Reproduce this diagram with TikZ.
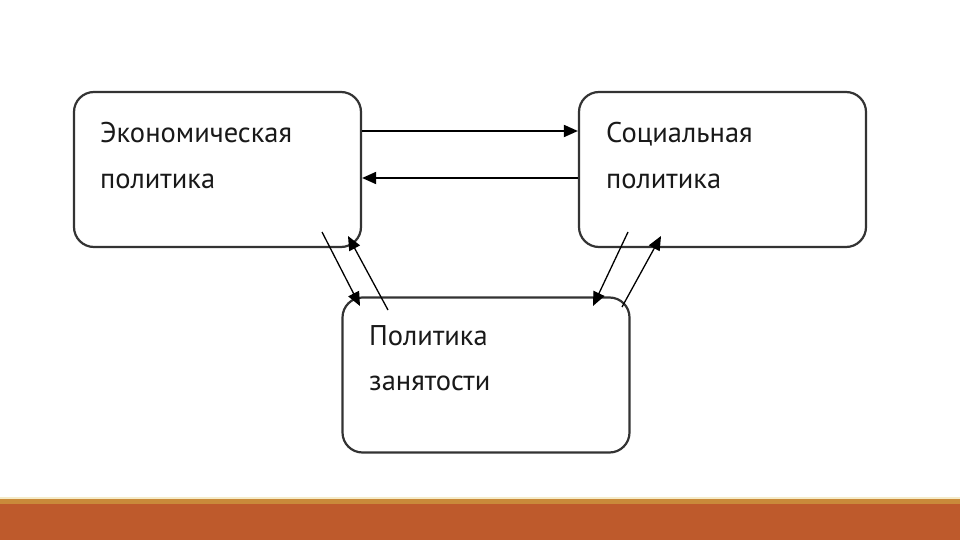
\documentclass[tikz,border=0pt]{standalone}
\usepackage{fontspec}
\setmainfont{PT Sans}
\usetikzlibrary{arrows.meta}
\definecolor{rust}{HTML}{BE5A2C}
\definecolor{ochre}{HTML}{C98A3A}
\definecolor{paleband}{HTML}{F5EBC8}
\definecolor{boxline}{HTML}{333333}
\tikzset{
  pbox/.style={draw=boxline, line width=2.2pt, rounded corners=20pt, minimum width=287pt, minimum height=155pt, inner sep=0pt},
  ptext/.style={anchor=base west, inner sep=0pt, text=black!90, font=\fontsize{28.5}{28.5}\selectfont},
  conn/.style={line width=1.8pt, -{Triangle[length=14pt,width=12pt]}},
  thin/.style={line width=1.3pt, -{Triangle[length=14pt,width=12pt]}}
}
\begin{document}
\begin{tikzpicture}[x=1pt,y=-1pt]
\useasboundingbox (0,0) rectangle (960,540);
\fill[white] (0,0) rectangle (960,540);
% bottom band
\fill[paleband] (0,497) rectangle (960,499);
\fill[ochre] (0,499) rectangle (960,504);
\fill[rust] (0,504) rectangle (960,540);
% boxes
\node[pbox] (eco) at (217.5,169.5) {};
\node[pbox] (soc) at (722.5,169.5) {};
\node[pbox] (emp) at (486,375) {};
% texts
\node[ptext] (t1) at (100,143) {Экономическая};
\node[ptext] (t2) at (100,188) {политика};
\node[ptext] (t3) at (606,143) {Социальная};
\node[ptext] (t4) at (606,188) {политика};
\node[ptext] (t5) at (369,345) {Политика};
\node[ptext] (t6) at (369,390) {занятости};
% horizontal connectors
\draw[conn] ([yshift=38.5pt]eco.east) -- ([yshift=38.5pt]soc.west);
\draw[conn] ([yshift=-8.5pt]soc.west) -- ([yshift=-8.5pt]eco.west -| eco.east);
% diagonal connectors
\coordinate (d1s) at (322,232);
\coordinate (d1e) at (360,306);
\coordinate (d2s) at (388,310);
\coordinate (d2e) at (348,236);
\coordinate (d3s) at (628,232);
\coordinate (d3e) at (593,306);
\coordinate (d4s) at (622,307);
\coordinate (d4e) at (661,236);
\draw[thin] (d1s) -- (d1e);
\draw[thin] (d2s) -- (d2e);
\draw[thin] (d3s) -- (d3e);
\draw[thin] (d4s) -- (d4e);
\end{tikzpicture}
\end{document}
